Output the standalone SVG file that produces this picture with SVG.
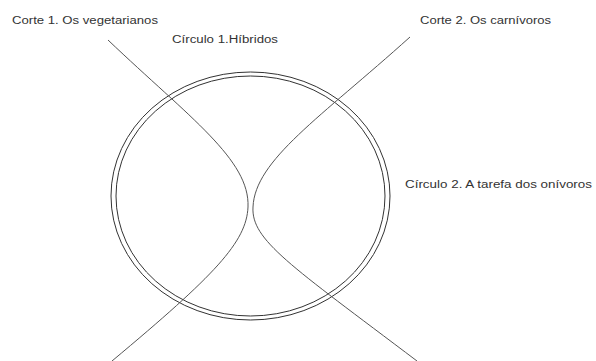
<svg xmlns="http://www.w3.org/2000/svg" width="596" height="361" viewBox="0 0 596 361">
<style>
.lbl{font-family:"Liberation Sans",Arial,sans-serif;font-size:10px;fill:#333}
.ring{fill:none;stroke:#333;stroke-width:1}
.cut{fill:none;stroke:#555;stroke-width:1}
</style>
<rect width="596" height="361" fill="#fff"/>
<g id="circulo1">
<ellipse class="ring" cx="250.5" cy="196" rx="134.5" ry="120"/>
<text class="lbl" x="172" y="43" textLength="106" lengthAdjust="spacingAndGlyphs">Círculo 1.Híbridos</text>
</g>
<g id="circulo2">
<ellipse class="ring" cx="250.5" cy="196" rx="139.5" ry="124"/>
<text class="lbl" x="405" y="188" textLength="187" lengthAdjust="spacingAndGlyphs">Círculo 2. A tarefa dos onívoros</text>
</g>
<g id="corte1">
<text class="lbl" x="12" y="24" textLength="146" lengthAdjust="spacingAndGlyphs">Corte 1. Os vegetarianos</text>
</g>
<g id="corte2">
<text class="lbl" x="420" y="24" textLength="131" lengthAdjust="spacingAndGlyphs">Corte 2. Os carnívoros</text>
</g>
<g id="connectors">
<path class="cut" d="M108,40 C190,118 250,160 248,207 C246.5,242 215,275 112,361"/>
<path class="cut" d="M410,37 C320,118 255,160 253,207 C251,240 290,265 417,361"/>
</g>
</svg>
